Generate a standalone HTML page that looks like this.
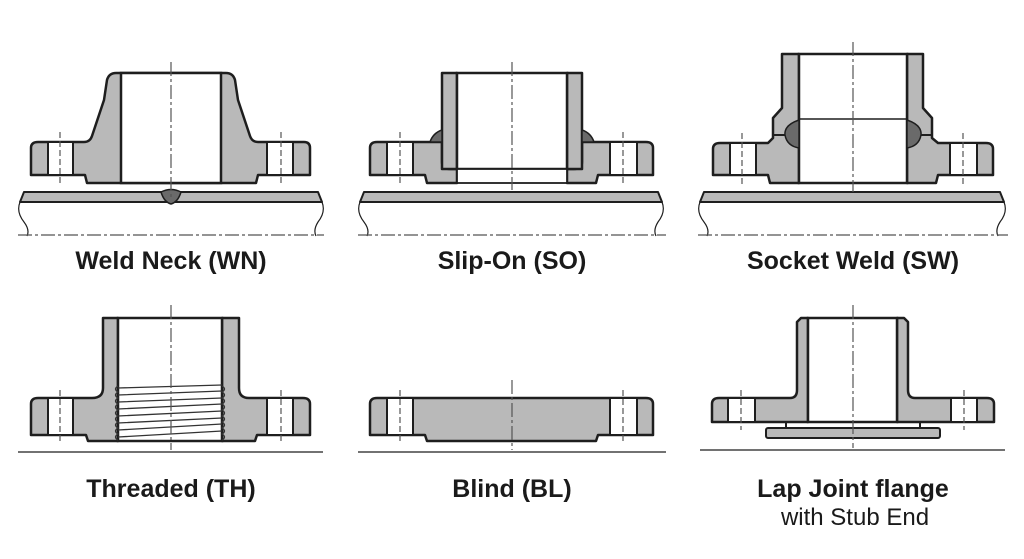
<!DOCTYPE html>
<html><head><style>
html,body{margin:0;padding:0;background:#fff;}
svg{display:block}
text{font-family:"Liberation Sans",Arial,sans-serif;font-weight:bold;font-size:25px;fill:#1a1a1a;text-anchor:middle}
.g{fill:#b9b9b9;stroke:#1e1e1e;stroke-width:2.5;stroke-linejoin:round}
.w{fill:#fff;stroke:#1e1e1e;stroke-width:2.5}
.ln{stroke:#1e1e1e;stroke-width:2;fill:none}
.th{stroke:#333;stroke-width:1.3;fill:none}
.cl{stroke:#555;stroke-width:1.2;stroke-dasharray:14 3 3 3;fill:none}
.bl{stroke:#555;stroke-width:1.2;stroke-dasharray:6 3;fill:none}
.weld{fill:#6a6a6a;stroke:#1e1e1e;stroke-width:1.5}
.hole{fill:#fff;stroke:#1e1e1e;stroke-width:2}
</style></head><body>
<svg width="1024" height="559" viewBox="0 0 1024 559">
<!-- WELD NECK -->
<path class="g" d="M38,142 L84,142 Q90,142 92,136 L104,100 L107,80 Q109,73 116,73 L226,73 Q233,73 235,80 L238,100 L250,136 Q252,142 258,142 L304,142 Q310,142 310,148 L310,175 L258,175 L256,183 L87,183 L85,175 L31,175 L31,148 Q31,142 38,142 Z"/>
<rect class="w" x="121" y="73" width="100" height="110"/>
<rect class="hole" x="48" y="142" width="25" height="33"/>
<rect class="hole" x="267" y="142" width="26" height="33"/>
<line class="bl" x1="60" y1="132" x2="60" y2="185"/><line class="bl" x1="281" y1="132" x2="281" y2="185"/>
<path class="g" d="M24,192 L318,192 L322,202 L20,202 Z" style="stroke-width:2"/>
<path class="ln" style="stroke-width:1.2" d="M20,202 Q16,212 24,222 Q30,230 27,236 M322,202 Q326,212 318,222 Q313,230 316,236"/>
<line class="cl" x1="18" y1="235" x2="324" y2="235"/>
<path class="weld" d="M161,192 Q171,187 181,192 Q178,202 171,204 Q164,202 161,192 Z"/>
<line class="cl" x1="171" y1="62" x2="171" y2="200"/>
<text x="171" y="269">Weld Neck (WN)</text>

<!-- SLIP ON -->
<path class="g" d="M442,142 L442,162 Q442,169 450,169 L457,169 L457,183 L427,183 L425,175 L370,175 L370,148 Q370,142 377,142 Z"/>
<path class="g" d="M582,142 L582,162 Q582,169 574,169 L567,169 L567,183 L596,183 L598,175 L653,175 L653,148 Q653,142 646,142 Z"/>
<rect class="g" x="442" y="73" width="15" height="96"/>
<rect class="g" x="567" y="73" width="15" height="96"/>
<rect class="w" x="457" y="73" width="110" height="96"/>
<rect class="w" x="457" y="169" width="110" height="14" style="stroke-width:1.8"/>
<path class="weld" d="M430,142 L442,142 L442,130 Q433,133 430,142 Z"/>
<path class="weld" d="M594,142 L582,142 L582,130 Q591,133 594,142 Z"/>
<rect class="hole" x="387" y="142" width="26" height="33"/>
<rect class="hole" x="610" y="142" width="27" height="33"/>
<line class="bl" x1="400" y1="132" x2="400" y2="185"/><line class="bl" x1="623" y1="132" x2="623" y2="185"/>
<path class="g" d="M364,192 L658,192 L662,202 L360,202 Z" style="stroke-width:2"/>
<path class="ln" style="stroke-width:1.2" d="M360,202 Q356,212 364,222 Q370,230 367,236 M662,202 Q666,212 658,222 Q653,230 656,236"/>
<line class="cl" x1="358" y1="235" x2="666" y2="235"/>
<line class="cl" x1="512" y1="62" x2="512" y2="190"/>
<text x="512" y="269">Slip-On (SO)</text>

<!-- SOCKET WELD -->
<path class="g" d="M720,143 L768,143 L773,138 L773,118 L782,108 L782,54 L799,54 L799,183 L770,183 L768,175 L713,175 L713,149 Q713,143 720,143 Z"/>
<path class="g" d="M986,143 L938,143 L932,138 L932,118 L923,108 L923,54 L907,54 L907,183 L936,183 L938,175 L993,175 L993,149 Q993,143 986,143 Z"/>
<line class="ln" x1="773" y1="135" x2="790" y2="135"/><line class="ln" x1="932" y1="135" x2="915" y2="135"/>
<rect class="w" x="799" y="54" width="108" height="129"/>
<line class="ln" style="stroke-width:1.5" x1="799" y1="119" x2="907" y2="119"/>
<path class="weld" d="M799,120 Q784,125 785,135 Q787,146 799,148 Z"/>
<path class="weld" d="M907,120 Q922,125 921,135 Q919,146 907,148 Z"/>
<rect class="hole" x="730" y="143" width="26" height="32"/>
<rect class="hole" x="950" y="143" width="27" height="32"/>
<line class="bl" x1="742" y1="133" x2="742" y2="185"/><line class="bl" x1="963" y1="133" x2="963" y2="185"/>
<path class="g" d="M704,192 L1000,192 L1004,202 L700,202 Z" style="stroke-width:2"/>
<path class="ln" style="stroke-width:1.2" d="M700,202 Q696,212 704,222 Q710,230 707,236 M1004,202 Q1008,212 1000,222 Q995,230 998,236"/>
<line class="cl" x1="698" y1="235" x2="1008" y2="235"/>
<line class="cl" x1="853" y1="42" x2="853" y2="192"/>
<text x="853" y="269">Socket Weld (SW)</text>

<!-- THREADED -->
<path class="g" d="M38,398 L92,398 Q103,398 103,388 L103,318 L118,318 L118,441 L88,441 L86,435 L31,435 L31,404 Q31,398 38,398 Z"/>
<path class="g" d="M303,398 L249,398 Q239,398 239,388 L239,318 L222,318 L222,441 L255,441 L257,435 L310,435 L310,404 Q310,398 303,398 Z"/>
<rect class="w" x="118" y="318" width="104" height="123"/>
<g class="th">
<path d="M118,388 L222,385 M118,395 L222,391 M118,402 L222,398 M118,409 L222,404 M118,416 L222,411 M118,423 L222,418 M118,430 L222,424 M118,437 L222,431"/>
<path d="M118,386 q-5,3 0,6 q-5,3 0,6 q-5,3 0,6 q-5,3 0,6 q-5,3 0,6 q-5,3 0,6 q-5,3 0,6 q-5,3 0,6 q-5,3 0,6"/>
<path d="M222,386 q5,3 0,6 q5,3 0,6 q5,3 0,6 q5,3 0,6 q5,3 0,6 q5,3 0,6 q5,3 0,6 q5,3 0,6 q5,3 0,6"/>
</g>
<rect class="hole" x="48" y="398" width="25" height="37"/>
<rect class="hole" x="267" y="398" width="26" height="37"/>
<line class="bl" x1="60" y1="390" x2="60" y2="442"/><line class="bl" x1="281" y1="390" x2="281" y2="442"/>
<line class="ln" style="stroke-width:1.2" x1="18" y1="452" x2="323" y2="452"/>
<line class="cl" x1="171" y1="305" x2="171" y2="450"/>
<text x="171" y="497">Threaded (TH)</text>

<!-- BLIND -->
<path class="g" d="M377,398 L646,398 Q653,398 653,404 L653,435 L598,435 L596,441 L427,441 L425,435 L370,435 L370,404 Q370,398 377,398 Z"/>
<rect class="hole" x="387" y="398" width="26" height="37"/>
<rect class="hole" x="610" y="398" width="27" height="37"/>
<line class="bl" x1="400" y1="390" x2="400" y2="442"/><line class="bl" x1="623" y1="390" x2="623" y2="442"/>
<line class="ln" style="stroke-width:1.2" x1="358" y1="452" x2="666" y2="452"/>
<line class="cl" x1="512" y1="380" x2="512" y2="450"/>
<text x="512" y="497">Blind (BL)</text>

<!-- LAP JOINT -->
<path class="g" d="M719,398 L790,398 Q797,398 797,390 L797,322 L801,318 L808,318 L808,422 L712,422 L712,404 Q712,398 719,398 Z"/>
<path class="g" d="M987,398 L915,398 Q908,398 908,390 L908,322 L904,318 L897,318 L897,422 L994,422 L994,404 Q994,398 987,398 Z"/>
<rect class="w" x="808" y="318" width="89" height="104"/>
<rect class="hole" x="728" y="398" width="27" height="24"/>
<rect class="hole" x="951" y="398" width="26" height="24"/>
<line class="bl" x1="741" y1="390" x2="741" y2="430"/><line class="bl" x1="964" y1="390" x2="964" y2="430"/>
<line class="ln" x1="786" y1="422" x2="786" y2="428"/><line class="ln" x1="920" y1="422" x2="920" y2="428"/>
<rect class="g" x="766" y="428" width="174" height="10" rx="2" style="stroke-width:2"/>
<line class="ln" style="stroke-width:1.2" x1="700" y1="450" x2="1005" y2="450"/>
<line class="cl" x1="853" y1="305" x2="853" y2="448"/>
<text x="853" y="497">Lap Joint flange</text>
<text x="855" y="525" style="font-weight:normal;font-size:24px">with Stub End</text>
</svg>
</body></html>
